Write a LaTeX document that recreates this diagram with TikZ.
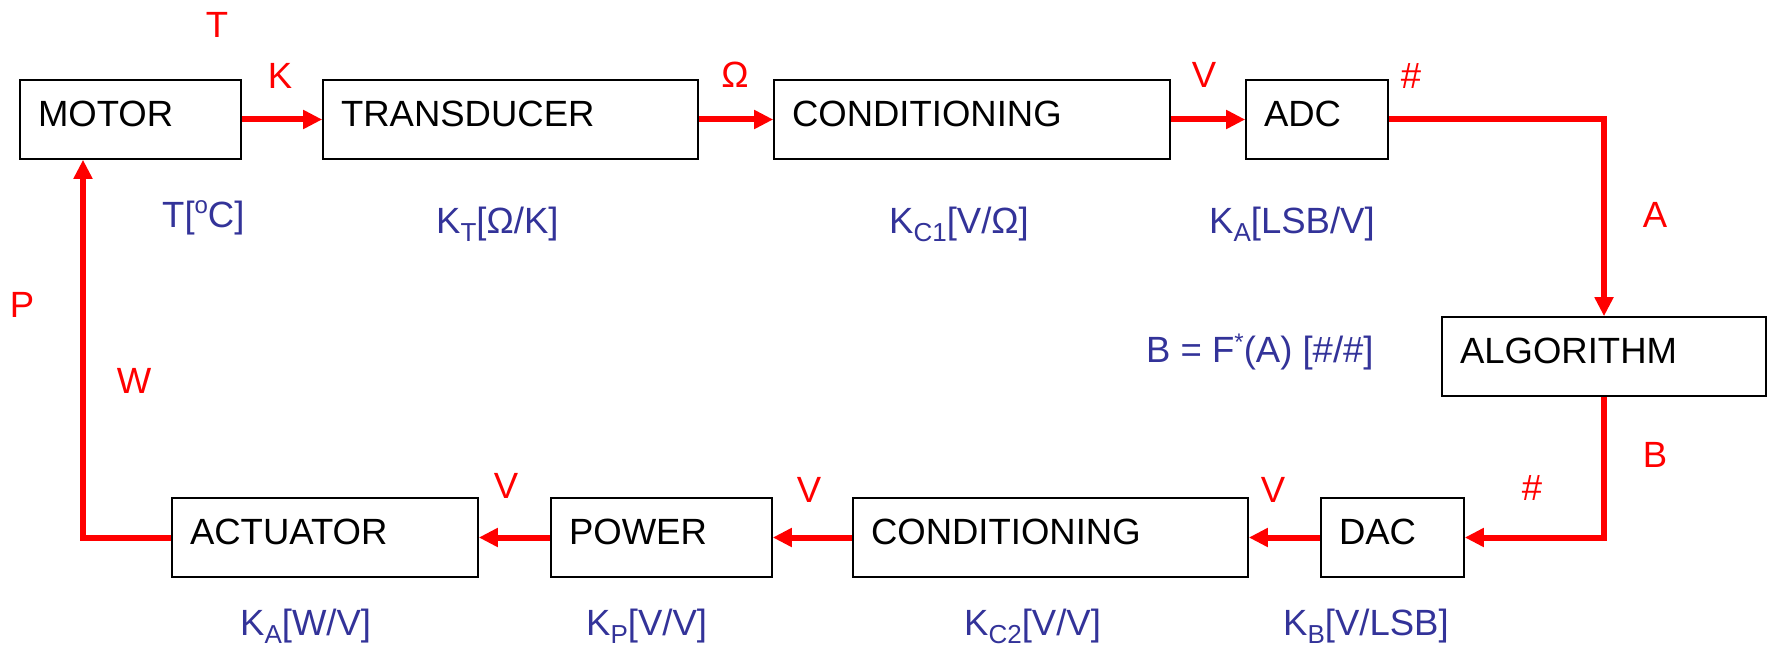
\documentclass[tikz,border=0pt]{standalone}
\usepackage{fontspec}
\setmainfont{Liberation Sans}
\usetikzlibrary{arrows.meta}
\definecolor{lblue}{RGB}{51,51,153}
\newcommand\subs[1]{\raisebox{-8pt}{\fontsize{26}{26}\selectfont #1}}
\newcommand\sups[2]{\raisebox{#1}{\fontsize{24}{24}\selectfont #2}}
\begin{document}
\begin{tikzpicture}[x=1pt,y=-1pt,font=\fontsize{36.5}{40}\selectfont,
  blk/.style={draw=black, line width=1.6pt, fill=white, align=left, inner xsep=18pt, inner ysep=0pt,
    minimum height=79pt, text height=28pt, text depth=14pt},
  sig/.style={red, line width=6pt, -{Triangle[length=19pt,width=18pt]}},
  rl/.style={red, anchor=base, inner sep=0pt},
  bl/.style={lblue, anchor=base west, inner sep=0pt}]
\useasboundingbox (0,0) rectangle (1768,647);
% blocks
\node[blk, text width=185pt] (motor) at (130.5,119.5) {MOTOR};
\node[blk, text width=339pt] (trans) at (510.5,119.5) {TRANSDUCER};
\node[blk, text width=360pt] (cond1) at (972,119.5) {CONDITIONING};
\node[blk, text width=106pt] (adc) at (1317,119.5) {ADC};
\node[blk, text width=288pt] (alg) at (1604,356.5) {ALGORITHM};
\node[blk, text width=270pt] (act) at (325,537.5) {ACTUATOR};
\node[blk, text width=185pt] (power) at (661.5,537.5) {POWER};
\node[blk, text width=359pt] (cond2) at (1050.5,537.5) {CONDITIONING};
\node[blk, text width=107pt] (dac) at (1392.5,537.5) {DAC};
% connectors
\draw[sig] (motor) -- (trans);
\draw[sig] (trans) -- (cond1);
\draw[sig] (cond1) -- (adc);
\draw[sig] (adc.east) -| (alg.north);
\draw[sig] (alg.south) |- (dac.east);
\draw[sig] (dac) -- (cond2);
\draw[sig] (cond2) -- (power);
\draw[sig] (power) -- (act);
\draw[sig] (act.west) -| ([xshift=-47.5pt]motor.south);
% red signal labels
\node[rl] (lT) at (217,38) {T};
\node[rl] (lK) at (280,89) {K};
\node[rl] (lOm) at (735,88) {Ω};
\node[rl] (lV1) at (1204,88) {V};
\node[rl] (lH1) at (1411,89) {\#};
\node[rl] (lA) at (1655,227) {A};
\node[rl] (lB) at (1655,467) {B};
\node[rl] (lH2) at (1532,500) {\#};
\node[rl] (lV2) at (1273,502) {V};
\node[rl] (lV3) at (809,502) {V};
\node[rl] (lV4) at (506,498) {V};
\node[rl] (lW) at (134,393) {W};
\node[rl] (lP) at (22,317) {P};
% blue gain labels
\node[bl] (gT) at (162,227) {T[\sups{14pt}{o}C]};
\node[bl] (gKT) at (436,233) {K\subs{T}[Ω/K]};
\node[bl] (gKC1) at (889,233) {K\subs{C1}[V/Ω]};
\node[bl] (gKA1) at (1209,233) {K\subs{A}[LSB/V]};
\node[bl] (gF) at (1146,362) {B = F\sups{12pt}{*}(A) [\#/\#]};
\node[bl] (gKA2) at (240,635) {K\subs{A}[W/V]};
\node[bl] (gKP) at (586,635) {K\subs{P}[V/V]};
\node[bl] (gKC2) at (964,635) {K\subs{C2}[V/V]};
\node[bl] (gKB) at (1283,635) {K\subs{B}[V/LSB]};
\end{tikzpicture}
\end{document}
